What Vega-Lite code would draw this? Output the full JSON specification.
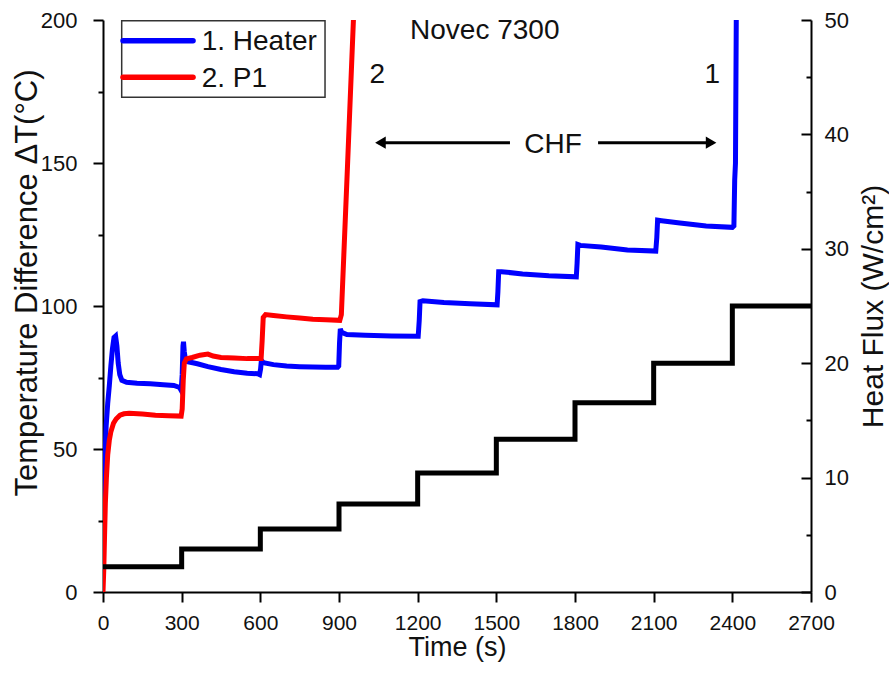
{
  "$schema": "https://vega.github.io/schema/vega-lite/v6.json",
  "width": 708,
  "height": 572,
  "autosize": "none",
  "padding": {"left": 103, "top": 20, "right": 78, "bottom": 85},
  "background": "white",
  "config": {
    "font": "Liberation Sans",
    "view": {"stroke": null},
    "axis": {"grid": false, "domainColor": "black", "domainWidth": 2, "tickColor": "black", "tickWidth": 2, "labelColor": "#111", "titleColor": "#111", "labelFontSize": 21, "titleFontSize": 30, "titleFontWeight": "normal", "labelOverlap": false, "labelFlush": false}
  },
  "datasets": {
    "temp": [
      {"s": "1. Heater", "t": 0, "v": 20}, {"s": "1. Heater", "t": 4, "v": 35}, {"s": "1. Heater", "t": 8, "v": 48}, {"s": "1. Heater", "t": 12, "v": 58}, {"s": "1. Heater", "t": 18, "v": 66}, {"s": "1. Heater", "t": 24, "v": 72}, {"s": "1. Heater", "t": 30, "v": 79}, {"s": "1. Heater", "t": 36, "v": 85}, {"s": "1. Heater", "t": 42, "v": 89}, {"s": "1. Heater", "t": 48, "v": 89.5}, {"s": "1. Heater", "t": 53, "v": 86}, {"s": "1. Heater", "t": 58, "v": 80}, {"s": "1. Heater", "t": 64, "v": 76}, {"s": "1. Heater", "t": 72, "v": 74}, {"s": "1. Heater", "t": 90, "v": 73.3}, {"s": "1. Heater", "t": 130, "v": 73}, {"s": "1. Heater", "t": 180, "v": 72.8}, {"s": "1. Heater", "t": 230, "v": 72.5}, {"s": "1. Heater", "t": 270, "v": 72.2}, {"s": "1. Heater", "t": 292, "v": 71.5}, {"s": "1. Heater", "t": 298, "v": 70.5}, {"s": "1. Heater", "t": 302, "v": 76}, {"s": "1. Heater", "t": 305, "v": 86}, {"s": "1. Heater", "t": 307, "v": 87.5}, {"s": "1. Heater", "t": 310, "v": 84}, {"s": "1. Heater", "t": 315, "v": 81}, {"s": "1. Heater", "t": 325, "v": 80.5}, {"s": "1. Heater", "t": 360, "v": 79.8}, {"s": "1. Heater", "t": 400, "v": 78.8}, {"s": "1. Heater", "t": 450, "v": 77.8}, {"s": "1. Heater", "t": 500, "v": 77}, {"s": "1. Heater", "t": 550, "v": 76.5}, {"s": "1. Heater", "t": 590, "v": 76.3}, {"s": "1. Heater", "t": 597, "v": 76}, {"s": "1. Heater", "t": 601, "v": 78}, {"s": "1. Heater", "t": 604, "v": 81}, {"s": "1. Heater", "t": 612, "v": 80.2}, {"s": "1. Heater", "t": 650, "v": 79.5}, {"s": "1. Heater", "t": 700, "v": 79}, {"s": "1. Heater", "t": 750, "v": 78.8}, {"s": "1. Heater", "t": 800, "v": 78.7}, {"s": "1. Heater", "t": 850, "v": 78.6}, {"s": "1. Heater", "t": 895, "v": 78.6}, {"s": "1. Heater", "t": 899, "v": 79}, {"s": "1. Heater", "t": 902, "v": 87}, {"s": "1. Heater", "t": 905, "v": 92}, {"s": "1. Heater", "t": 910, "v": 90.8}, {"s": "1. Heater", "t": 930, "v": 90}, {"s": "1. Heater", "t": 1000, "v": 89.8}, {"s": "1. Heater", "t": 1100, "v": 89.5}, {"s": "1. Heater", "t": 1202, "v": 89.4}, {"s": "1. Heater", "t": 1206, "v": 95}, {"s": "1. Heater", "t": 1209, "v": 101.5}, {"s": "1. Heater", "t": 1220, "v": 101.8}, {"s": "1. Heater", "t": 1300, "v": 101.2}, {"s": "1. Heater", "t": 1400, "v": 100.8}, {"s": "1. Heater", "t": 1503, "v": 100.4}, {"s": "1. Heater", "t": 1506, "v": 105}, {"s": "1. Heater", "t": 1509, "v": 112}, {"s": "1. Heater", "t": 1520, "v": 112}, {"s": "1. Heater", "t": 1600, "v": 111.2}, {"s": "1. Heater", "t": 1700, "v": 110.6}, {"s": "1. Heater", "t": 1805, "v": 110.2}, {"s": "1. Heater", "t": 1808, "v": 115}, {"s": "1. Heater", "t": 1811, "v": 121.5}, {"s": "1. Heater", "t": 1820, "v": 121.2}, {"s": "1. Heater", "t": 1900, "v": 120.6}, {"s": "1. Heater", "t": 2000, "v": 119.6}, {"s": "1. Heater", "t": 2108, "v": 119.2}, {"s": "1. Heater", "t": 2112, "v": 124}, {"s": "1. Heater", "t": 2115, "v": 130}, {"s": "1. Heater", "t": 2130, "v": 129.8}, {"s": "1. Heater", "t": 2200, "v": 129}, {"s": "1. Heater", "t": 2300, "v": 128}, {"s": "1. Heater", "t": 2400, "v": 127.5}, {"s": "1. Heater", "t": 2406, "v": 128}, {"s": "1. Heater", "t": 2409, "v": 144}, {"s": "1. Heater", "t": 2412, "v": 150}, {"s": "1. Heater", "t": 2415, "v": 200},
      {"s": "2. P1", "t": 0, "v": 0}, {"s": "2. P1", "t": 3, "v": 8}, {"s": "2. P1", "t": 6, "v": 20}, {"s": "2. P1", "t": 9, "v": 31}, {"s": "2. P1", "t": 13, "v": 40}, {"s": "2. P1", "t": 18, "v": 48}, {"s": "2. P1", "t": 24, "v": 53}, {"s": "2. P1", "t": 30, "v": 56}, {"s": "2. P1", "t": 40, "v": 59}, {"s": "2. P1", "t": 50, "v": 60.5}, {"s": "2. P1", "t": 65, "v": 61.8}, {"s": "2. P1", "t": 80, "v": 62.3}, {"s": "2. P1", "t": 100, "v": 62.5}, {"s": "2. P1", "t": 150, "v": 62.2}, {"s": "2. P1", "t": 200, "v": 61.8}, {"s": "2. P1", "t": 250, "v": 61.6}, {"s": "2. P1", "t": 298, "v": 61.5}, {"s": "2. P1", "t": 302, "v": 64}, {"s": "2. P1", "t": 306, "v": 74}, {"s": "2. P1", "t": 310, "v": 80}, {"s": "2. P1", "t": 318, "v": 81.5}, {"s": "2. P1", "t": 340, "v": 82}, {"s": "2. P1", "t": 370, "v": 82.8}, {"s": "2. P1", "t": 400, "v": 83.2}, {"s": "2. P1", "t": 420, "v": 82.5}, {"s": "2. P1", "t": 450, "v": 82}, {"s": "2. P1", "t": 500, "v": 81.8}, {"s": "2. P1", "t": 550, "v": 81.6}, {"s": "2. P1", "t": 603, "v": 81.6}, {"s": "2. P1", "t": 607, "v": 88}, {"s": "2. P1", "t": 611, "v": 96}, {"s": "2. P1", "t": 620, "v": 97}, {"s": "2. P1", "t": 650, "v": 96.7}, {"s": "2. P1", "t": 700, "v": 96.2}, {"s": "2. P1", "t": 750, "v": 95.8}, {"s": "2. P1", "t": 800, "v": 95.4}, {"s": "2. P1", "t": 850, "v": 95.2}, {"s": "2. P1", "t": 903, "v": 95}, {"s": "2. P1", "t": 909, "v": 97}, {"s": "2. P1", "t": 932, "v": 148}, {"s": "2. P1", "t": 955, "v": 200}
    ],
    "flux": [
      {"t": 0, "q": 2.2}, {"t": 300, "q": 3.75}, {"t": 600, "q": 5.5}, {"t": 900, "q": 7.7}, {"t": 1200, "q": 10.4}, {"t": 1500, "q": 13.35}, {"t": 1800, "q": 16.55}, {"t": 2100, "q": 20}, {"t": 2400, "q": 25}, {"t": 2700, "q": 25}
    ],
    "notes": [
      {"t": 1456, "v": 193.3, "label": "Novec 7300"},
      {"t": 1046, "v": 177.8, "label": "2"},
      {"t": 2324, "v": 177.9, "label": "1"},
      {"t": 1716, "v": 153.6, "label": "CHF"}
    ],
    "arrows": [
      {"t": 1050, "t2": 1552, "v": 157.1},
      {"t": 1888, "t2": 2326, "v": 157.1}
    ],
    "heads": [
      {"t": 1058, "v": 157.1, "shape": "triangle-left"},
      {"t": 2319, "v": 157.1, "shape": "triangle-right"}
    ],
    "legbox": [
      {"t": 71.3, "t2": 846.7, "v": 199.76, "v2": 172.97}
    ],
    "legline": [
      {"s": "1. Heater", "t": 76.3, "t2": 343.3, "v": 192.76},
      {"s": "2. P1", "t": 76.3, "t2": 343.3, "v": 179.97}
    ],
    "leglabel": [
      {"t": 376.4, "v": 189.5, "label": "1. Heater"},
      {"t": 376.4, "v": 176.5, "label": "2. P1"}
    ]
  },
  "layer": [
    {
      "layer": [
        {
          "data": {"name": "temp"},
          "mark": {"type": "line", "strokeWidth": 5, "clip": true},
          "encoding": {
            "x": {
              "field": "t", "type": "quantitative",
              "scale": {"domain": [0, 2700], "nice": false, "zero": false},
              "axis": {
                "values": [0, 150, 300, 450, 600, 750, 900, 1050, 1200, 1350, 1500, 1650, 1800, 1950, 2100, 2250, 2400, 2550, 2700],
                "format": "d",
                "labelFontSize": 21,
                "labelExpr": "datum.value % 300 === 0 ? datum.label : ''",
                "tickSize": {"condition": {"test": "datum.value % 300 === 0", "value": 10}, "value": 5},
                "labelPadding": 10,
                "title": "Time (s)",
                "titleFontSize": 27,
                "titleBaseline": "alphabetic",
                "titleY": 63
              }
            },
            "y": {
              "field": "v", "type": "quantitative",
              "scale": {"domain": [0, 200], "nice": false},
              "axis": {
                "orient": "left",
                "values": [0, 25, 50, 75, 100, 125, 150, 175, 200],
                "format": "d",
                "labelFontSize": 22,
                "labelExpr": "datum.value % 50 === 0 ? datum.label : ''",
                "tickSize": {"condition": {"test": "datum.value % 50 === 0", "value": 10}, "value": 5},
                "labelPadding": 16,
                "title": "Temperature Difference ΔT(°C)",
                "titleAngle": -90,
                "titleX": -67,
                "titleY": 262.5,
                "titleBaseline": "alphabetic",
                "titleAlign": "center",
                "titleFontSize": 31
              }
            },
            "color": {
              "field": "s", "type": "nominal",
              "scale": {"domain": ["1. Heater", "2. P1"], "range": ["#0000ff", "#ff0000"]},
              "legend": null
            }
          }
        },
        {
          "data": {"name": "notes"},
          "mark": {"type": "text", "fontSize": 28, "align": "center", "baseline": "alphabetic", "color": "#111"},
          "encoding": {
            "x": {"field": "t", "type": "quantitative"},
            "y": {"field": "v", "type": "quantitative"},
            "text": {"field": "label"}
          }
        },
        {
          "data": {"name": "arrows"},
          "mark": {"type": "rule", "strokeWidth": 3, "color": "black"},
          "encoding": {
            "x": {"field": "t", "type": "quantitative"},
            "x2": {"field": "t2"},
            "y": {"field": "v", "type": "quantitative"}
          }
        },
        {
          "data": {"name": "heads"},
          "mark": {"type": "point", "filled": true, "size": 150, "color": "black", "opacity": 1},
          "encoding": {
            "x": {"field": "t", "type": "quantitative"},
            "y": {"field": "v", "type": "quantitative"},
            "shape": {"field": "shape", "type": "nominal", "scale": null}
          }
        },
        {
          "data": {"name": "legbox"},
          "mark": {"type": "rect", "fill": "white", "stroke": "#333", "strokeWidth": 1.5},
          "encoding": {
            "x": {"field": "t", "type": "quantitative"},
            "x2": {"field": "t2"},
            "y": {"field": "v", "type": "quantitative"},
            "y2": {"field": "v2"}
          }
        },
        {
          "data": {"name": "legline"},
          "mark": {"type": "rule", "strokeWidth": 5.5, "strokeCap": "round"},
          "encoding": {
            "x": {"field": "t", "type": "quantitative"},
            "x2": {"field": "t2"},
            "y": {"field": "v", "type": "quantitative"},
            "color": {"field": "s", "type": "nominal", "legend": null}
          }
        },
        {
          "data": {"name": "leglabel"},
          "mark": {"type": "text", "fontSize": 28, "align": "left", "baseline": "alphabetic", "color": "#111"},
          "encoding": {
            "x": {"field": "t", "type": "quantitative"},
            "y": {"field": "v", "type": "quantitative"},
            "text": {"field": "label"}
          }
        }
      ]
    },
    {
      "data": {"name": "flux"},
      "mark": {"type": "line", "interpolate": "step-after", "strokeWidth": 5, "color": "black"},
      "encoding": {
        "x": {"field": "t", "type": "quantitative"},
        "y": {
          "field": "q", "type": "quantitative",
          "scale": {"domain": [0, 50], "nice": false},
          "axis": {
            "orient": "right",
            "values": [0, 5, 10, 15, 20, 25, 30, 35, 40, 45, 50],
            "format": "d",
            "labelFontSize": 22,
            "labelExpr": "datum.value % 10 === 0 ? datum.label : ''",
            "tickSize": {"condition": {"test": "datum.value % 10 === 0", "value": -10}, "value": -5},
            "labelPadding": 23,
            "title": "Heat Flux (W/cm²)",
            "titleAngle": -90,
            "titleX": 71,
            "titleY": 286,
            "titleBaseline": "alphabetic",
            "titleAlign": "center",
            "titleFontSize": 30
          }
        }
      }
    }
  ],
  "resolve": {"scale": {"y": "independent"}}
}
